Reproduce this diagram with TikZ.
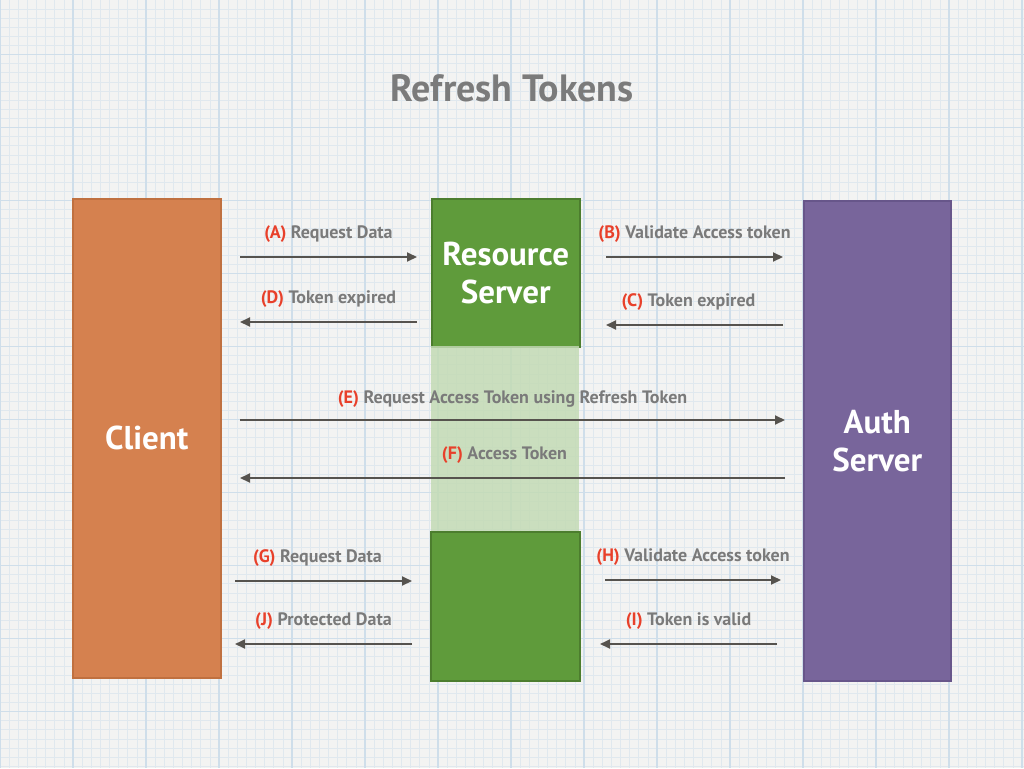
\documentclass[tikz,border=0pt]{standalone}
\usepackage{fontspec}
\setmainfont{PT Sans}
\usetikzlibrary{arrows.meta}
\definecolor{bg}{HTML}{F3F3F2}
\definecolor{gridminor}{HTML}{E0E8EE}
\definecolor{gridmajor}{HTML}{CFDEEA}
\definecolor{clientc}{HTML}{D5814F}
\definecolor{clientd}{HTML}{C0703F}
\definecolor{rsc}{HTML}{5F9B3B}
\definecolor{rsd}{HTML}{4C7D2E}
\definecolor{rslight}{HTML}{C3DBB5}
\definecolor{authc}{HTML}{78659B}
\definecolor{authd}{HTML}{67568A}
\definecolor{arrowc}{HTML}{56534E}
\definecolor{lblred}{HTML}{E8402A}
\definecolor{lblgray}{HTML}{7A7A7A}
\definecolor{titlegray}{HTML}{7B7B7B}
\begin{document}
\begin{tikzpicture}[x=1pt,y=-1pt,
  minorline/.style={gridminor, line width=0.7pt},
  majorline/.style={gridmajor, line width=1.1pt},
  box/.style={draw, line width=1.5pt, anchor=north west, inner sep=0pt,
    text=white, align=center, font=\fontsize{33}{38}\selectfont\bfseries},
  arr/.style={arrowc, line width=2pt, -{Triangle[length=10pt,width=9pt]}},
  lbl/.style={midway, anchor=base, yshift=19pt, text=lblgray,
    font=\fontsize{18}{21}\selectfont\bfseries, inner sep=0pt},
  tag/.style={text=lblred}
]
\useasboundingbox (0,0) rectangle (1024,768);
\fill[bg] (0,0) rectangle (1024,768);
% grid
\foreach \i in {0,...,112} \draw[minorline] ({\i*9.125},0) -- ({\i*9.125},768);
\foreach \i in {-6,...,78} \draw[minorline] (0,{54.5+\i*9.125}) -- (1024,{54.5+\i*9.125});
\foreach \i in {0,...,14} \draw[majorline] ({\i*73},0) -- ({\i*73},768);
\foreach \i in {-1,...,10} \draw[majorline] (0,{54.5+\i*73}) -- (1024,{54.5+\i*73});

% title
\node[text=titlegray, font=\fontsize{38}{42}\selectfont\bfseries, anchor=base] (title) at (512,101) {Refresh Tokens};

% boxes
\node[box, fill=clientc, draw=clientd, minimum width=148pt, minimum height=479pt] (client) at (72,198) {Client};
\node[box, fill=rsc, draw=rsd, minimum width=148pt, minimum height=148pt] (rstop) at (431,198) {Resource\\Server};
\node[fill=rslight, opacity=0.85, anchor=north west, inner sep=0pt, minimum width=148pt, minimum height=185pt] (rsmid) at (431,346) {};
\node[box, fill=rsc, draw=rsd, minimum width=149pt, minimum height=149pt] (rsbot) at (430,531) {};
\node[box, fill=authc, draw=authd, minimum width=147pt, minimum height=480pt] (auth) at (803,200) {Auth\\Server};

% arrow end points
\coordinate (a1) at (240,257); \coordinate (a2) at (417,257);
\coordinate (d1) at (417,322); \coordinate (d2) at (240,322);
\coordinate (b1) at (606,257); \coordinate (b2) at (783,257);
\coordinate (c1) at (783,325); \coordinate (c2) at (606,325);
\coordinate (e1) at (240,420); \coordinate (e2) at (785,420);
\coordinate (f1) at (785,478); \coordinate (f2) at (240,478);
\coordinate (g1) at (235,581); \coordinate (g2) at (412,581);
\coordinate (j1) at (412,644); \coordinate (j2) at (235,644);
\coordinate (h1) at (605,580); \coordinate (h2) at (781,580);
\coordinate (i1) at (777,644); \coordinate (i2) at (600,644);

\draw[arr] (a1) -- node[lbl] (la) {\textcolor{lblred}{(A)} Request Data} (a2);
\draw[arr] (d1) -- node[lbl] (ld) {\textcolor{lblred}{(D)} Token expired} (d2);
\draw[arr] (b1) -- node[lbl] (lb) {\textcolor{lblred}{(B)} Validate Access token} (b2);
\draw[arr] (c1) -- node[lbl, xshift=-6pt] (lc) {\textcolor{lblred}{(C)} Token expired} (c2);
\draw[arr] (e1) -- node[lbl, yshift=-2pt] (le) {\textcolor{lblred}{(E)} Request Access Token using Refresh Token} (e2);
\draw[arr] (f1) -- node[lbl, xshift=-8pt] (lf) {\textcolor{lblred}{(F)} Access Token} (f2);
\draw[arr] (g1) -- node[lbl, xshift=-6pt] (lg) {\textcolor{lblred}{(G)} Request Data} (g2);
\draw[arr] (j1) -- node[lbl] (lj) {\textcolor{lblred}{(J)} Protected Data} (j2);
\draw[arr] (h1) -- node[lbl] (lh) {\textcolor{lblred}{(H)} Validate Access token} (h2);
\draw[arr] (i1) -- node[lbl] (li) {\textcolor{lblred}{(I)} Token is valid} (i2);
\end{tikzpicture}
\end{document}
